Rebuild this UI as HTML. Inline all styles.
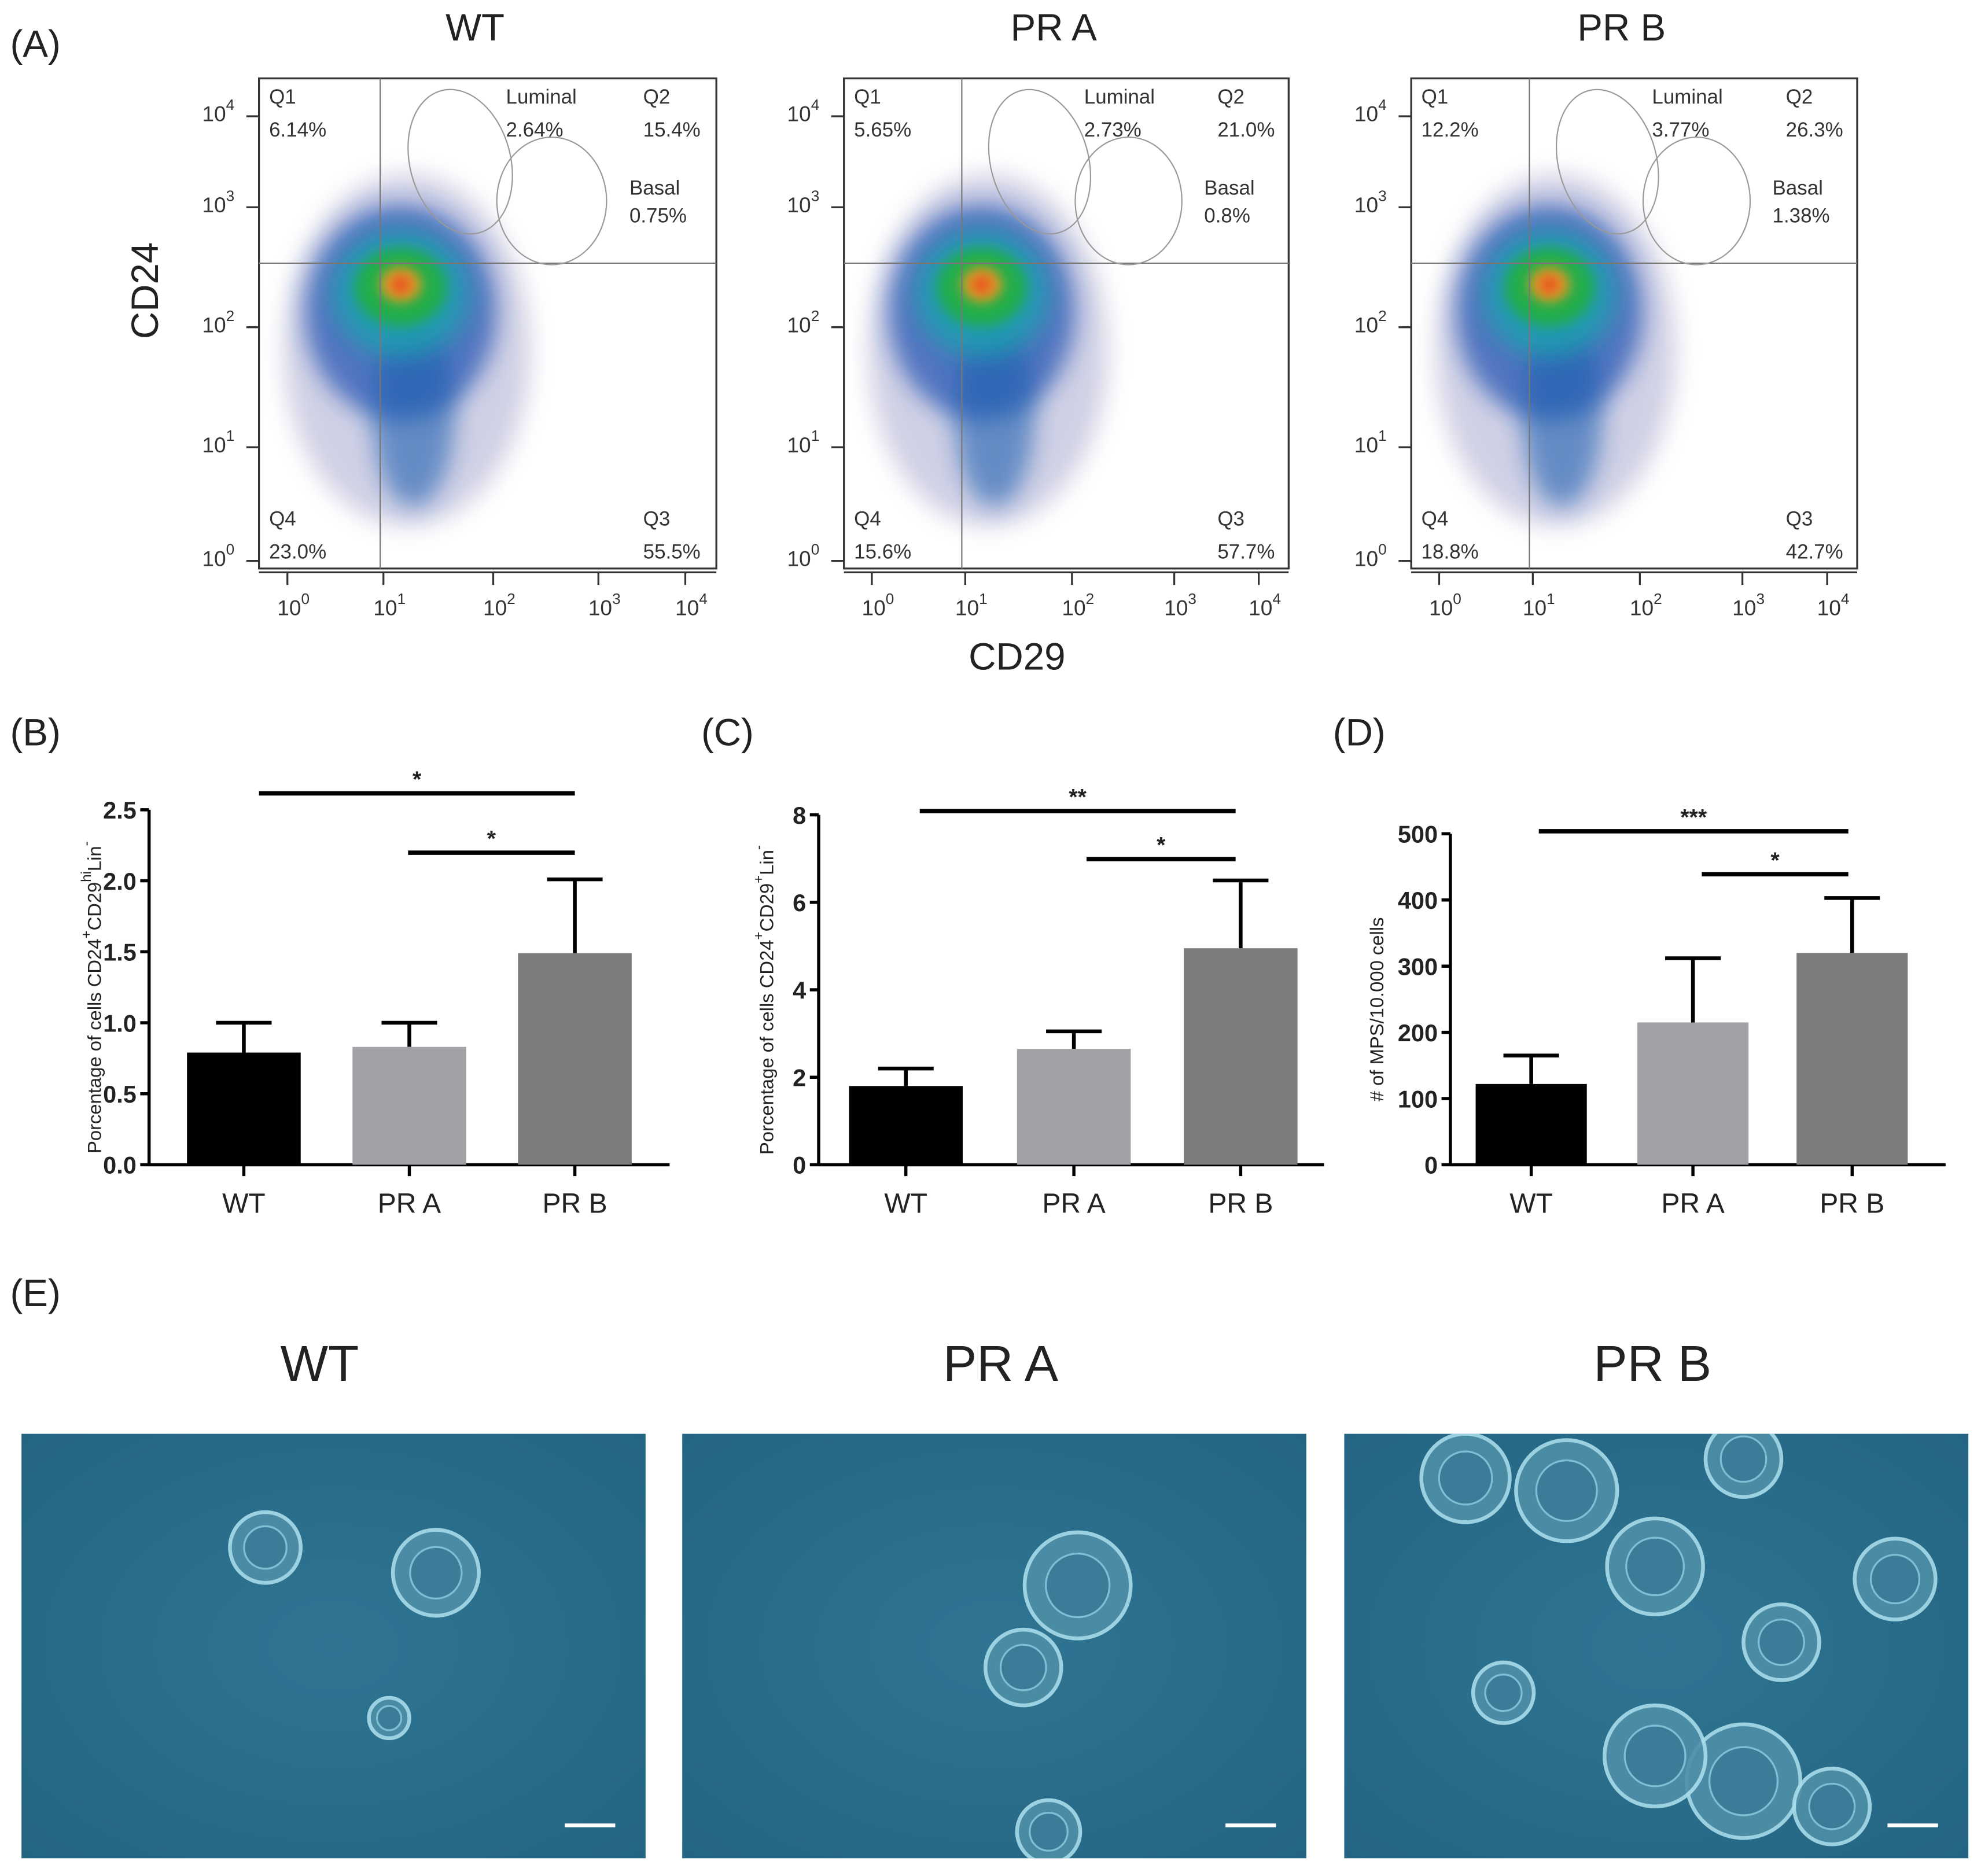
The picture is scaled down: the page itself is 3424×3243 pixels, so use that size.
<!DOCTYPE html>
<html><head><meta charset="utf-8"><style>
html,body{margin:0;padding:0;background:#fff}
svg{display:block}
text{font-family:"Liberation Sans",sans-serif}
</style></head><body>
<svg id="fig" width="3424" height="3243" viewBox="0 0 1568 1485" xmlns="http://www.w3.org/2000/svg">
<defs>
<filter id="blur" x="-50%" y="-50%" width="200%" height="200%"><feGaussianBlur stdDeviation="9"/></filter>
<filter id="blur2" x="-50%" y="-50%" width="200%" height="200%"><feGaussianBlur stdDeviation="5"/></filter>
<radialGradient id="photoBg" cx="50%" cy="50%" r="70%"><stop offset="0" stop-color="#2f7592"/><stop offset="1" stop-color="#236583"/></radialGradient>
</defs>
<g id="root"></g>
</svg>
<script>
// ---- Flow cytometry data (quadrant percentages) ----
const flowGroups = ['WT','PR A','PR B'];
const q1 = ['6.14%','5.65%','12.2%'];
const q2 = ['15.4%','21.0%','26.3%'];
const q3 = ['55.5%','57.7%','42.7%'];
const q4 = ['23.0%','15.6%','18.8%'];
const luminal = ['2.64%','2.73%','3.77%'];
const basal = ['0.75%','0.8%','1.38%'];
// ---- Bar chart data ----
const barCats = ['WT','PR A','PR B'];
const bMeans = [0.79, 0.83, 1.49];
const bErr = [1.0, 1.0, 2.01];
const bTicks = ['0.0','0.5','1.0','1.5','2.0','2.5'];
const cMeans = [1.8, 2.65, 4.95];
const cErr = [2.2, 3.05, 6.5];
const cTicks = ['0','2','4','6','8'];
const dMeans = [122, 215, 320];
const dErr = [165, 312, 403];
const dTicks = ['0','100','200','300','400','500'];

const NS='http://www.w3.org/2000/svg';
const root=document.getElementById('root');
function mk(tag,attrs,parent,txt){const e=document.createElementNS(NS,tag);for(const k in attrs)e.setAttribute(k,attrs[k]);if(txt!==undefined)e.textContent=txt;(parent||root).appendChild(e);return e;}

// panel labels
[['(A)',8,45],['(B)',8,590],['(C)',555,590],['(D)',1055,590],['(E)',8,1034]].forEach(p=>{
  const t=mk('text',{x:p[1],y:p[2],'font-size':30,fill:'#222'},root,p[0]);
  
  
});

// ---- Flow plots ----
const flowX=[205,668,1117], flowW=[362,352,353];
flowGroups.forEach((g,i)=>{
  const x0=flowX[i], w=flowW[i], y0=62, h=388;
  const G=mk('g',{});
  
  
  const tt=mk('text',{x:x0+w/2-10,y:32,'font-size':30,'text-anchor':'middle',fill:'#222'},G,g);
  
  
  mk('rect',{x:x0,y:y0,width:w,height:h,fill:'#fff',stroke:'#333','stroke-width':1.5},G);
  const vx=x0+w*0.265, hy=y0+h*0.377;
  const cx=x0+w*0.31, cy=y0+h*0.4;
  const cl=mk('g',{},G);
  mk('ellipse',{cx:cx+5,cy:cy+60,rx:w*0.27,ry:h*0.36,fill:'#4a4a9a',opacity:0.25,filter:'url(#blur)'},cl);
  mk('ellipse',{cx:cx,cy:cy+30,rx:w*0.21,ry:h*0.22,fill:'#1f4fb0',opacity:0.7,filter:'url(#blur)'},cl);
  mk('ellipse',{cx:cx+10,cy:cy+110,rx:w*0.09,ry:h*0.19,fill:'#1f5fb0',opacity:0.6,filter:'url(#blur)'},cl);
  mk('ellipse',{cx:cx,cy:cy+15,rx:w*0.15,ry:h*0.13,fill:'#1aa0b0',opacity:0.85,filter:'url(#blur)'},cl);
  mk('ellipse',{cx:cx,cy:cy+10,rx:w*0.1,ry:h*0.08,fill:'#22b040',opacity:0.9,filter:'url(#blur2)'},cl);
  mk('ellipse',{cx:cx,cy:cy+8,rx:w*0.045,ry:h*0.035,fill:'#f0a020',opacity:0.95,filter:'url(#blur2)'},cl);
  mk('ellipse',{cx:cx,cy:cy+8,rx:w*0.022,ry:h*0.018,fill:'#e84020',opacity:0.9,filter:'url(#blur2)'},cl);
  mk('line',{x1:vx,y1:y0,x2:vx,y2:y0+h,stroke:'#777','stroke-width':1},G);
  mk('line',{x1:x0,y1:hy,x2:x0+w,y2:hy,stroke:'#777','stroke-width':1},G);
  mk('ellipse',{cx:x0+w*0.44,cy:y0+h*0.17,rx:w*0.11,ry:h*0.15,fill:'none',stroke:'#999','stroke-width':1,transform:`rotate(-15 ${x0+w*0.44} ${y0+h*0.17})`},G);
  mk('ellipse',{cx:x0+w*0.64,cy:y0+h*0.25,rx:w*0.12,ry:h*0.13,fill:'none',stroke:'#999','stroke-width':1},G);
  const fs=16;
  const labs=[['Q1',x0+8,y0+20],[q1[i],x0+8,y0+46],['Luminal',x0+w*0.54,y0+20],[luminal[i],x0+w*0.54,y0+46],['Q2',x0+w*0.84,y0+20],[q2[i],x0+w*0.84,y0+46],['Basal',x0+w*0.81,y0+92],[basal[i],x0+w*0.81,y0+114],['Q4',x0+8,y0+354],[q4[i],x0+8,y0+380],['Q3',x0+w*0.84,y0+354],[q3[i],x0+w*0.84,y0+380]];
  labs.forEach(l=>{const t=mk('text',{x:l[1],y:l[2],'font-size':fs,fill:'#333'},G,l[0]);});
  const ylab=[88,160,255,350,440];
  ['4','3','2','1','0'].forEach((e,k)=>{
    const yy=ylab[k];
    const t=mk('text',{x:x0-45,y:yy+8,'font-size':17,fill:'#333'},G,'10');
    mk('tspan',{dy:-9,'font-size':12},t,e);
    mk('line',{x1:x0-10,y1:yy+4,x2:x0,y2:yy+4,stroke:'#333','stroke-width':1.5},G);
  });
  mk('line',{x1:x0,y1:y0+h+3,x2:x0+w,y2:y0+h+3,stroke:'#333','stroke-width':1.5},G);
  const xl=[x0+w*0.04,x0+w*0.25,x0+w*0.49,x0+w*0.72,x0+w*0.91];
  xl.forEach((xx,k)=>{
    mk('line',{x1:xx+8,y1:y0+h+3,x2:xx+8,y2:y0+h+13,stroke:'#333','stroke-width':1.5},G);
    const t=mk('text',{x:xx,y:y0+h+37,'font-size':17,fill:'#333'},G,'10');
    mk('tspan',{dy:-9,'font-size':12},t,String(k));
  });
});
let t=mk('text',{x:125,y:230,'font-size':30,fill:'#222','text-anchor':'middle',transform:'rotate(-90 125 230)'},root,'CD24');

t=mk('text',{x:805,y:530,'font-size':30,fill:'#222','text-anchor':'middle'},root,'CD29');


// ---- Bar charts ----
const colors=['#000','#a2a2a6','#7c7c7c'];
function barChart(o){
  const G=mk('g',{});
  
  
  const y=v=>o.bot-(v/o.max)*(o.bot-o.top);
  mk('line',{x1:o.ax,y1:o.top,x2:o.ax,y2:o.bot+1,stroke:'#000','stroke-width':2.5},G);
  mk('line',{x1:o.ax,y1:o.bot,x2:o.xEnd,y2:o.bot,stroke:'#000','stroke-width':2.5},G);
  o.ticks.forEach((tk,k)=>{
    const v=k*o.max/(o.ticks.length-1), yy=y(v);
    mk('line',{x1:o.ax-7,y1:yy,x2:o.ax,y2:yy,stroke:'#000','stroke-width':2.5},G);
    const t=mk('text',{x:o.ax-10,y:yy+7,'font-size':19,'font-weight':'bold','text-anchor':'end',fill:'#222'},G,tk);
    
  });
  barCats.forEach((c,k)=>{
    const cx=o.cx[k];
    mk('line',{x1:cx,y1:y(o.err[k]),x2:cx,y2:y(o.means[k]),stroke:'#000','stroke-width':3},G);
    mk('line',{x1:cx-22,y1:y(o.err[k]),x2:cx+22,y2:y(o.err[k]),stroke:'#000','stroke-width':3},G);
    const r=mk('rect',{x:cx-o.bw/2,y:y(o.means[k]),width:o.bw,height:o.bot-y(o.means[k]),fill:colors[k]},G);
    
    
    mk('line',{x1:cx,y1:o.bot,x2:cx,y2:o.bot+9,stroke:'#000','stroke-width':2.5},G);
    const t=mk('text',{x:cx,y:o.bot+38,'font-size':22,'text-anchor':'middle',fill:'#222'},G,c);
    
  });
  o.sig.forEach(s=>{
    mk('line',{x1:s[0],y1:s[2],x2:s[1],y2:s[2],stroke:'#000','stroke-width':3.5},G);
    const t=mk('text',{x:(s[0]+s[1])/2,y:s[2]-5,'font-size':18,'font-weight':'bold','text-anchor':'middle',fill:'#222'},G,s[3]);
    
  });
  const t=mk('text',{x:0,y:0,'font-size':15,fill:'#222','text-anchor':'middle',transform:`translate(${o.tx} ${(o.top+o.bot)/2+8}) rotate(-90)`},G);
  t.innerHTML=o.title;
  
}
barChart({name:'chart-b',ax:118,xEnd:530,top:641,bot:922,max:2.5,ticks:bTicks,means:bMeans,err:bErr,cx:[193,324,455],bw:90,
  sig:[[205,455,628,'*'],[323,455,675,'*']],tx:80,title:'Porcentage of cells CD24<tspan dy="-8" font-size="11">+</tspan><tspan dy="8">CD29</tspan><tspan dy="-8" font-size="11">hi</tspan><tspan dy="8">Lin</tspan><tspan dy="-8" font-size="11">-</tspan>'});
barChart({name:'chart-c',ax:648,xEnd:1048,top:645,bot:922,max:8,ticks:cTicks,means:cMeans,err:cErr,cx:[717,850,982],bw:90,
  sig:[[728,978,642,'**'],[860,978,680,'*']],tx:612,title:'Porcentage of cells CD24<tspan dy="-8" font-size="11">+</tspan><tspan dy="8">CD29</tspan><tspan dy="-8" font-size="11">+</tspan><tspan dy="8">Lin</tspan><tspan dy="-8" font-size="11">-</tspan>'});
barChart({name:'chart-d',ax:1148,xEnd:1540,top:660,bot:922,max:500,ticks:dTicks,means:dMeans,err:dErr,cx:[1212,1340,1466],bw:88,
  sig:[[1218,1463,658,'***'],[1347,1463,692,'*']],tx:1095,title:'# of MPS/10.000 cells'});

// ---- Photos (E) ----
const photoTitles=['WT','PR A','PR B'], photoX=[17,540,1064], titleX=[253,792,1308];
const blobs=[[[210,1225,28],[345,1245,34],[308,1360,16]],[[853,1255,42],[810,1320,30],[830,1450,25]],[[1160,1170,35],[1240,1180,40],[1380,1155,30],[1310,1240,38],[1410,1300,30],[1500,1250,32],[1380,1410,45],[1310,1390,40],[1190,1340,24],[1450,1430,30]]];
photoTitles.forEach((g,i)=>{
  const t=mk('text',{x:titleX[i],y:1093,'font-size':40,'text-anchor':'middle',fill:'#222'},root,g);
  
  const G=mk('g',{});
  
  
  mk('rect',{x:photoX[i],y:1135,width:494,height:336,fill:'url(#photoBg)'},G);
  const cp=mk('clipPath',{id:'cp'+i},G);
  mk('rect',{x:photoX[i],y:1135,width:494,height:336},cp);
  const bg=mk('g',{'clip-path':`url(#cp${i})`},G);
  blobs[i].forEach(b=>{
    mk('circle',{cx:b[0],cy:b[1],r:b[2],fill:'#4f8fa8',stroke:'#a8dcea','stroke-width':3,opacity:0.9},bg);
    mk('circle',{cx:b[0],cy:b[1],r:b[2]*0.6,fill:'#3d7c98',stroke:'#7fbfd4','stroke-width':1.5},bg);
  });
  mk('line',{x1:photoX[i]+430,y1:1445,x2:photoX[i]+470,y2:1445,stroke:'#fff','stroke-width':3},G);
});
</script>
</body></html>
